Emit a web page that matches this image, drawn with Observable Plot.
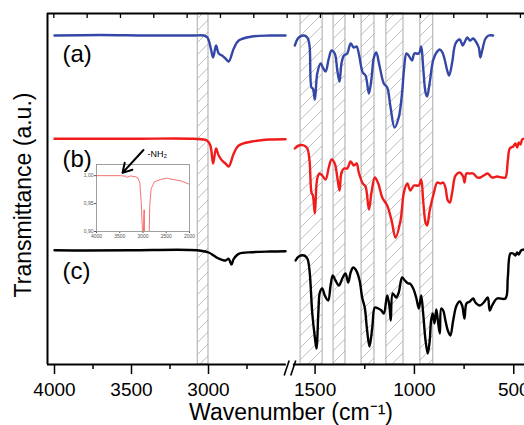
<!DOCTYPE html>
<html>
<head>
<meta charset="utf-8">
<script src="https://cdn.jsdelivr.net/npm/d3@7"></script>
<script src="https://cdn.jsdelivr.net/npm/@observablehq/plot@0.6"></script>
<style>
  html, body { margin: 0; padding: 0; background: #fff; overflow: hidden; }
  #wrap { position: relative; width: 524px; height: 425px; }
  #wrap svg { display: block; }
  #inset { position: absolute; left: 80px; top: 163px; }
</style>
</head>
<body>
<div id="wrap"><div id="main"></div><div id="inset"></div></div>
<script>
// ---------- data (wavenumber cm^-1, transmittance a.u.) ----------
const specA = [
  [4000,329],[3700,329.5],[3400,329],[3100,329],[3030,329],[3007,327],[2985,316],[2970,307],[2951,319],[2934,311],[2912,309],[2890,306],[2869,303],[2836,316],[2804,324],[2717,328],[2600,329],[2500,329],
  [1602,319],[1582,327],[1556,329],[1539,327],[1528,319],[1518,277],[1511,276],[1501,265],[1489,291],[1472,301],[1461,297],[1447,293],[1431,306],[1417,314],[1401,311],[1388,294],[1377,283],[1367,301],[1355,309],[1338,311],[1321,321],[1305,317],[1291,318],[1280,311],[1260,292],[1246,289],[1229,271],[1216,286],[1204,307],[1192,312],[1176,299],[1154,281],[1137,277],[1120,257],[1100,237],[1079,247],[1061,274],[1053,294],[1040,311],[1029,309],[1012,304],[1000,311],[978,311],[966,318],[956,297],[944,272],[936,268],[923,282],[906,304],[889,312],[872,315],[859,312],[849,306],[835,294],[825,289],[810,302],[793,321],[772,325],[757,319],[748,322],[734,327],[721,324],[704,326],[688,322],[676,317],[668,307],[659,314],[642,326],[626,329],[604,329]
];
const specB = [
  [4000,225.7],[3500,225.7],[3100,225.7],[3010,224],[2988,219],[2970,201],[2951,216],[2934,209],[2912,204],[2890,201],[2869,198],[2836,211],[2804,219],[2717,223],[2600,225],[2500,225.3],
  [1602,216],[1582,219],[1556,219],[1539,216],[1528,204],[1518,172],[1511,169],[1501,151],[1489,186],[1477,191],[1464,189],[1447,185],[1431,197],[1417,205],[1401,201],[1388,187],[1377,174],[1367,192],[1355,196],[1338,196],[1321,203],[1305,199],[1291,201],[1280,192],[1260,181],[1246,178],[1229,155],[1216,172],[1199,187],[1182,181],[1162,167],[1137,159],[1115,144],[1095,127],[1070,144],[1053,172],[1036,181],[1020,174],[1003,179],[978,179],[966,185],[956,164],[944,142],[936,139],[923,154],[903,171],[885,182],[869,181],[855,182],[844,177],[832,164],[822,162],[810,172],[793,189],[772,192],[755,188],[748,182],[738,191],[721,191],[704,191],[684,187],[668,187],[651,189],[631,191],[609,187],[584,188],[559,187],[542,187],[530,204],[520,216],[503,218],[492,221],[483,217],[475,222],[466,220],[458,225],[446,226]
];
const specC = [
  [4000,114.3],[3800,114],[3500,114.3],[3074,114.3],[2999,112],[2966,109],[2944,106.7],[2912,104.7],[2890,104],[2869,105.7],[2851,100],[2836,105.7],[2804,110.7],[2717,112.3],[2600,113],[2500,113.3],
  [1598,104],[1582,108],[1556,109],[1539,106],[1528,94],[1514,51],[1501,27],[1493,16],[1483,54],[1476,72],[1464,76],[1451,69],[1434,64],[1422,79],[1411,89],[1397,84],[1380,79],[1363,86],[1347,91],[1333,82],[1321,92],[1308,97],[1293,94],[1276,84],[1263,67],[1250,57],[1238,34],[1226,18],[1212,37],[1199,57],[1182,56],[1166,54],[1154,51],[1137,69],[1125,57],[1119,44],[1109,71],[1092,67],[1079,72],[1062,87],[1048,84],[1031,81],[1023,81],[1006,76],[990,66],[978,56],[966,69],[956,51],[944,24],[933,11],[923,24],[916,44],[908,51],[899,41],[890,55],[882,44],[872,31],[865,56],[855,54],[844,44],[832,34],[819,29],[805,44],[788,59],[772,63],[760,59],[748,46],[738,61],[721,63],[704,66],[693,62],[671,59],[651,62],[631,67],[621,54],[609,59],[584,66],[542,66],[530,87],[517,111],[503,111],[492,109],[483,112],[475,110],[463,114],[446,115]
];
const seriesColors = ["#3447a6", "#f01c1c", "#000000"];
const seriesLabels = ["(a)", "(b)", "(c)"];
const labelLevels = [310, 205, 93];
const bands = [[3070,3000],[1573,1462],[1407,1347],[1266,1201],[1141,1055],[970,905]];
const majorTicks = [4000, 3500, 3000, 1500, 1000, 500];
const minorTicks = [3750, 3250, 2750, 1250, 750];
const insetWave = [4000,3484,3376,3340,3269,3161,3112,3069,3040,3008,2990,2982,2975,2968,2955,2900,2876,2866,2854,2824,2753,2624,2495,2338,2157,2016,2000];
const insetT    = [1.000,1.000,0.999,0.997,0.9995,0.998,0.996,0.988,0.955,0.895,0.895,0.925,0.939,0.895,0.85,0.85,0.85,0.90,0.948,0.977,0.989,0.993,0.9955,0.993,0.990,0.985,0.985];
const insetXTicks = [4000, 3500, 3000, 2500, 2000];
const insetYTicks = [0.90, 0.95, 1.00];
const nhArrow = {w1: 2990, t1: 1.046, w2: 3441, t2: 1.005};   // in inset units

// ---------- broken x axis: 4000–2500 | 1600–446 ----------
const leftPart  = d3.scaleLinear([4000, 2500], [7, 238]);
const rightPart = d3.scaleLinear([1600, 446], [247.7, 477]);
const u = w => (w > 2000 ? leftPart(w) : rightPart(w));
const breakU = (leftPart(2500) + rightPart(1600)) / 2;
const yTop = 351;

const rowsOf = (spec, key) => spec.map(([w, t]) => ({key, seg: w > 2000 ? "L" : "R", x: u(w), y: t}));
const specs = [specA, specB, specC];
const lineMarks = specs.map((s, i) =>
  Plot.line(rowsOf(s, i), {x: "x", y: "y", z: "seg", stroke: seriesColors[i], strokeWidth: 2.4, curve: "catmull-rom"})
);
const topTicks = d3.range(15).map(i => 6.3 + i * 33.33);

const font = "'Liberation Sans', Arial, Helvetica, sans-serif";

const main = Plot.plot({
  width: 524, height: 425,
  marginLeft: 47, marginRight: 0, marginTop: 13, marginBottom: 61,
  x: {domain: [0, 477], axis: null},
  y: {domain: [0, yTop], axis: null},
  style: {fontFamily: font, background: "white", color: "black"},
  marks: [
    Plot.rect(bands, {x1: d => u(d[0]), x2: d => u(d[1]), y1: 0, y2: yTop, fill: "url(#hatch)", stroke: "#a0a0a0", strokeWidth: 0.9}),
    ...lineMarks,
    // frame
    Plot.ruleX([0], {y1: 0, y2: yTop, strokeWidth: 2}),
    Plot.ruleY([yTop], {x1: 0, x2: 477, strokeWidth: 2}),
    Plot.ruleY([0], {x1: 0, x2: breakU - 4, strokeWidth: 2}),
    Plot.ruleY([0], {x1: breakU + 3, x2: 477, strokeWidth: 2}),
    // break marks
    Plot.link([-6.2, 0.4], {x1: d => breakU + d, x2: d => breakU + d + 5, y1: -11, y2: 4, strokeWidth: 1.6}),
    // ticks
    Plot.ruleX(majorTicks, {x: d => u(d), y1: 0, y2: -10, strokeWidth: 1.5}),
    Plot.ruleX(minorTicks, {x: d => u(d), y1: 0, y2: -5, strokeWidth: 1.5}),
    Plot.ruleX(topTicks, {x: d => d, y1: yTop, y2: yTop - 5, strokeWidth: 1.3}),
    Plot.text(majorTicks, {x: d => u(d), y: 0, dy: 25, text: d => String(d), fontSize: 19}),
    // series labels
    Plot.text(seriesLabels, {x: u(3948), y: (d, i) => labelLevels[i], text: d => d, textAnchor: "start", fontSize: 24}),
    // axis titles
    Plot.text(["Wavenumber (cm\u207B\u00B9)"], {frameAnchor: "bottom", lineAnchor: "middle", dx: 5, dy: 48, fontSize: 23}),
    Plot.text(["Transmittance (a.u.)"], {frameAnchor: "left", textAnchor: "middle", lineAnchor: "middle", dx: -24, dy: 6, rotate: -90, fontSize: 23}),
    // annotation label
    Plot.text(["-NH\u2082"], {x: u(3396), y: 210, textAnchor: "start", fontSize: 9})
  ]
});
d3.select(main).insert("defs", ":first-child").html(
  '<pattern id="hatch" patternUnits="userSpaceOnUse" width="12" height="12">' +
  '<path d="M-1,1 l2,-2 M0,12 l12,-12 M11,13 l2,-2" stroke="#b0b0b0" stroke-width="0.8"/></pattern>'
);
document.getElementById("main").append(main);

// ---------- inset ----------
const insetRows = insetWave.map((w, i) => ({w, t: insetT[i]}));
const inset = Plot.plot({
  width: 111, height: 78,
  marginLeft: 16, marginRight: 2, marginTop: 1, marginBottom: 10,
  x: {domain: [4000, 2000], ticks: insetXTicks, tickSize: 2, tickPadding: 1, tickFormat: d => String(d), label: null},
  y: {domain: [0.9, 1.02], ticks: insetYTicks, tickSize: 2, tickPadding: 1, tickFormat: d => d.toFixed(2).replace(".", ","), label: null},
  style: {fontFamily: font, fontSize: "5px", background: "transparent", color: "#555", overflow: "visible"},
  marks: [
    Plot.frame({fill: "white", stroke: "#888", strokeWidth: 0.8}),
    Plot.line(insetRows, {x: "w", y: "t", stroke: "#f03535", strokeWidth: 0.7, clip: true}),
    Plot.arrow([nhArrow], {x1: "w1", y1: "t1", x2: "w2", y2: "t2", stroke: "black", strokeWidth: 2, headLength: 9})
  ]
});
document.getElementById("inset").append(inset);
</script>
</body>
</html>
